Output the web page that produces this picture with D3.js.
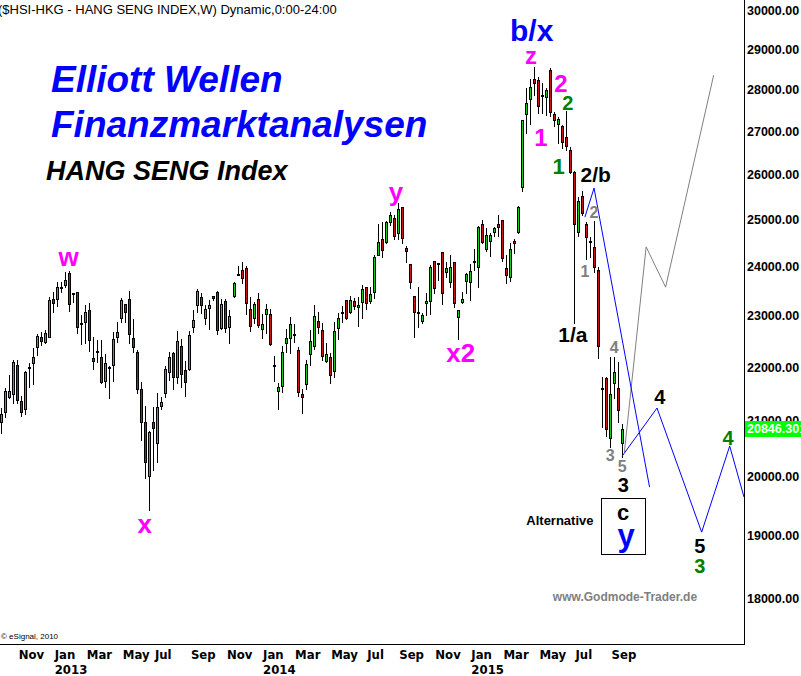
<!DOCTYPE html>
<html>
<head>
<meta charset="utf-8">
<title>HANG SENG Index</title>
<style>
  body { margin: 0; background: #fff; }
  svg { display: block; font-family: "Liberation Sans", Arial, sans-serif; }
  .xaxis text { font-family: "Liberation Sans Narrow", "DejaVu Sans Condensed", sans-serif; font-weight: bold; font-size: 13px; fill: #000; }
  .yaxis text { font-weight: bold; font-size: 12.5px; fill: #000; }
  .wave { font-weight: bold; text-anchor: middle; dominant-baseline: central; }
</style>
</head>
<body>
<script src="https://cdnjs.cloudflare.com/ajax/libs/d3/7.8.5/d3.min.js"></script>
<script>

var w = 801;
var h = 676;
var plotW = 744;
var plotH = 644;

var parseDate = d3.timeParse("%Y-%m-%d");

// weekly bars, Monday dates
var firstWeek = "2012-10-08";
var lastWeek = "2015-09-28";
var weeks = d3.timeMonday.range(parseDate(firstWeek), d3.timeDay.offset(parseDate(lastWeek), 1));

var opens = [20980,21150,21440,21490,22040,21360,21205,22005,22070,22380,22575,22490,22585,23330,23330,23580,23630,23865,23455,23475,
  22860,22870,23110,22165,22315,22185,21740,22005,22045,22575,22960,23230,23330,22555,22280,21575,20980,20015,20980,20600,
  21275,21500,21900,22265,21805,22410,21940,21955,22770,23210,23385,22950,23160,23395,23475,22750,23305,22785,23405,23850,
  23935,23970,23130,22950,23330,22730,23035,23030,22025,21550,21645,22470,22565,22640,22325,21485,21670,22245,22410,22895,
  22720,22120,22200,21930,22750,23070,23320,23080,23300,23170,23270,23580,23305,23485,24250,24580,24530,24945,25035,24710,
  25275,24390,24055,23395,23070,22890,23255,23290,24120,24085,24305,23885,23680,24100,22980,23270,23705,23690,24120,23990,
  24905,24370,24545,24730,24905,24990,23970,23785,24545,24730,25715,27400,27765,28255,28230,27865,27810,28475,27400,27165,
  27115,26860,26565,26070,24730,25530,24910,24545,24425,23935,21610,21785,20680,21690,21605,20590];
var highs = [21225,21595,21845,22135,22135,21450,21925,22070,22360,22640,22675,22710,23385,23475,23690,23680,23900,23920,23460,23480,
  23015,23215,23250,22585,22520,22520,22250,22010,22675,22870,23355,23235,23500,22930,22325,21710,21265,20810,21255,21500,
  21440,22020,22295,22295,22700,22540,22115,22700,23115,23540,23455,23215,23320,23400,23510,23330,23340,23115,23690,24020,
  24095,24020,23385,23285,23455,23030,23230,23135,22210,21690,22405,22730,22980,22830,22380,21585,22135,22720,23215,23070,
  22850,22460,22265,22880,23050,23195,23325,23400,23355,23375,23625,23585,23580,24250,24910,24960,24975,25180,25105,25360,
  25280,24445,24060,23400,23580,23060,23465,24040,24125,24090,24310,24105,24250,24105,23115,23475,23880,24055,24370,24865,
  25000,24815,24710,24850,25105,24995,24250,24495,24580,25305,27270,28025,28255,28560,28310,28150,28025,28520,27465,27345,
  27150,27485,26625,26075,25510,25640,24945,24635,24975,23990,21815,21815,22200,22185,22100,20935];
var lows = [20770,21070,21415,21330,21330,21090,21120,21625,21675,22235,22425,22470,22575,23080,23205,23475,23580,23095,23285,22665,
  22445,22460,22315,21965,22100,21700,21615,21420,21740,22485,22870,22880,22470,22295,21505,20650,19970,19430,20115,20250,
  21210,21440,21750,21575,21700,21625,21455,21950,22685,23080,23050,22835,22745,23320,22640,22745,22675,22470,23385,23830,
  23670,23030,22705,22850,22785,22565,22655,22425,21740,21205,21520,22295,22265,22490,21455,21145,21585,22040,22340,22655,
  22135,22100,21690,21805,22540,22880,22945,23060,23135,22795,22960,23130,23250,23365,24245,24200,24495,24890,24580,24580,
  24495,24105,23555,22575,22785,22860,23015,23030,23455,23725,23245,23790,23590,23170,22535,23250,23455,23320,23935,23590,
  24495,24340,24225,24650,24650,24130,23670,23715,24295,24710,25640,26970,27170,27865,27425,27440,27385,27365,27125,26720,
  26605,26565,26030,22850,24660,25105,24165,24205,23900,22180,20890,20720,20530,21410,20980,20350];
var closes = [21115,21545,21545,22090,21380,21160,21900,22000,22185,22600,22510,22655,23310,23265,23590,23575,23720,23230,23450,22785,
  22865,23070,22520,22120,22310,21715,22070,22000,22535,22675,23310,23080,22635,22390,21575,20970,20260,20785,20860,21255,
  21345,21955,22185,21815,22500,21860,21720,22615,22910,23495,23210,23130,23210,23355,22710,23230,22765,23000,23670,23855,
  23760,23250,22805,23230,22815,22835,23135,22445,22030,21615,22280,22555,22830,22635,21530,21440,22055,22500,22995,22770,
  22215,22250,21845,22700,22950,23065,22950,23320,23205,23215,23540,23250,23440,24200,24515,24355,24945,25105,24660,25230,
  24600,24330,23680,23070,23075,23010,23290,23990,23555,24080,23455,23970,23990,23250,23110,23340,23845,23915,24125,24840,
  24515,24665,24675,24815,24840,24180,23825,24370,24495,25275,27265,27665,28050,28150,27600,27860,27985,27450,27265,27290,
  26755,26665,26070,24905,25415,25145,24635,24540,24005,22410,21605,20845,21485,21900,21195,20846.301];

// price axis and time axis labels
var priceTicks = [18000,19000,20000,21000,22000,23000,24000,25000,26000,27000,28000,29000,30000];
var monthTicks = ["2012-11","2013-01","2013-03","2013-05","2013-07","2013-09","2013-11","2014-01","2014-03",
  "2014-05","2014-07","2014-09","2014-11","2015-01","2015-03","2015-05","2015-07","2015-09"];

// projected paths of the wave count [date, value]
var blueMain = [["2015-07-25",25060],["2015-08-10",25700],["2015-11-15",19820]];
var blueAlt = [["2015-09-28",20360],["2015-11-28",21230],["2016-02-14",19060],["2016-04-03",20540],["2016-04-28",19650]];
var grayAlt = [["2015-10-02",20435],["2015-11-09",24420],["2015-12-13",23580],["2016-03-06",28350]];

// wave labels [text, date, value, colour, size]
var waveLabels = [
  ["w", "2013-02-03", 24200, "#ff00ff", 26],
  ["x", "2013-06-16", 19195, "#ff00ff", 26],
  ["y", "2014-08-29", 25610, "#ff00ff", 26],
  ["x2", "2014-12-20", 22270, "#ff00ff", 26],
  ["z", "2015-04-22", 28825, "#ff00ff", 24],
  ["b/x", "2015-04-23", 29460, "#0000ff", 30],
  ["2", "2015-06-13", 28155, "#ff00ff", 24],
  ["2", "2015-06-25", 27670, "#008000", 20],
  ["1", "2015-05-09", 26845, "#ff00ff", 24],
  ["1", "2015-06-09", 26175, "#008000", 22],
  ["2/b", "2015-08-13", 26015, "#000000", 21],
  ["2", "2015-08-10", 25150, "#808080", 16],
  ["1", "2015-07-25", 23895, "#808080", 16],
  ["1/a", "2015-07-04", 22640, "#000000", 21],
  ["4", "2015-09-14", 22385, "#808080", 16],
  ["3", "2015-09-07", 20365, "#808080", 16],
  ["5", "2015-09-28", 20170, "#808080", 16],
  ["3", "2015-09-30", 19855, "#000000", 20],
  ["4", "2015-12-03", 21435, "#000000", 20],
  ["4", "2016-03-31", 20685, "#008000", 20],
  ["5", "2016-02-11", 18830, "#000000", 20],
  ["3", "2016-02-11", 18510, "#008000", 20]
];
var altBox = [["2015-08-22", 19633], ["2015-11-07", 18701]];
var altLabels = [
  ["c", "2015-09-30", 19396, "#000000", 22],
  ["y", "2015-10-05", 19012, "#0000ff", 31]
];

var xScale = d3.scaleTime()
    .domain([new Date(2012, 9, 6), new Date(2016, 3, 28)])
    .range([0, plotW]);

var yScale = d3.scaleLog()
    .domain([18000, 30000])
    .range([598, 10]);

var svg = d3.select("body")
    .append("svg")
    .attr("width", w)
    .attr("height", h);

svg.append("rect").attr("width", w).attr("height", h).attr("fill", "#fff");

svg.append("defs").append("clipPath").attr("id", "plotclip")
    .append("rect").attr("x", 0).attr("y", 0).attr("width", plotW).attr("height", plotH);

// headings
svg.append("text").attr("x", -2).attr("y", 14)
    .attr("font-size", "13px").attr("fill", "#000")
    .text("($HSI-HKG - HANG SENG INDEX,W) Dynamic,0:00-24:00");

svg.append("text").attr("x", 51).attr("y", 92)
    .attr("font-size", "37px").attr("font-weight", "bold").attr("font-style", "italic")
    .attr("fill", "#0000ff").text("Elliott Wellen");
svg.append("text").attr("x", 51).attr("y", 137)
    .attr("font-size", "37px").attr("font-weight", "bold").attr("font-style", "italic")
    .attr("fill", "#0000ff").text("Finanzmarktanalysen");
svg.append("text").attr("x", 46).attr("y", 180)
    .attr("font-size", "27px").attr("font-weight", "bold").attr("font-style", "italic")
    .attr("fill", "#000").text("HANG SENG Index");

//Create candles
var bars = weeks.map(function(d, i) {
    return { date: d, o: opens[i], h: highs[i], l: lows[i], c: closes[i] };
});

var candle = svg.append("g")
    .attr("shape-rendering", "crispEdges")
    .selectAll("g")
    .data(bars)
    .enter()
    .append("g")
    .attr("transform", function(d) {
        return "translate(" + Math.round(xScale(d.date)) + ",0)";
    });

candle.append("line")
    .attr("x1", 0.5).attr("x2", 0.5)
    .attr("y1", function(d) { return Math.round(yScale(d.h)); })
    .attr("y2", function(d) { return Math.round(yScale(d.l)) + 1; })
    .attr("stroke", "#000");

candle.append("rect")
    .attr("x", -0.5)
    .attr("width", 2)
    .attr("y", function(d) {
        return Math.round(yScale(Math.max(d.o, d.c))) + 0.5;
    })
    .attr("height", function(d) {
        var top = Math.round(yScale(Math.max(d.o, d.c)));
        var bot = Math.round(yScale(Math.min(d.o, d.c)));
        return Math.max(1, bot - top);
    })
    .attr("fill", function(d) {
        return d.c >= d.o ? "#1ec81e" : "#c81414";
    })
    .attr("stroke", "#000");

// projections
var line = d3.line()
    .x(function(d) { return xScale(parseDate(d[0])); })
    .y(function(d) { return yScale(d[1]); });

var proj = svg.append("g").attr("clip-path", "url(#plotclip)");
proj.append("path").datum(grayAlt).attr("d", line)
    .attr("fill", "none").attr("stroke", "#808080").attr("stroke-width", 1);
proj.append("path").datum(blueMain).attr("d", line)
    .attr("fill", "none").attr("stroke", "#0000ff").attr("stroke-width", 1);
proj.append("path").datum(blueAlt).attr("d", line)
    .attr("fill", "none").attr("stroke", "#0000ff").attr("stroke-width", 1);

// wave labels
svg.append("g").selectAll("text")
    .data(waveLabels)
    .enter()
    .append("text")
    .attr("class", "wave")
    .attr("x", function(d) { return xScale(parseDate(d[1])); })
    .attr("y", function(d) { return yScale(d[2]); })
    .attr("fill", function(d) { return d[3]; })
    .attr("font-size", function(d) { return d[4] + "px"; })
    .text(function(d) { return d[0]; });

// alternative box
var bx0 = Math.round(xScale(parseDate(altBox[0][0]))) + 0.5;
var bx1 = Math.round(xScale(parseDate(altBox[1][0]))) + 0.5;
var by0 = Math.round(yScale(altBox[0][1])) + 0.5;
var by1 = Math.round(yScale(altBox[1][1])) + 0.5;
svg.append("rect")
    .attr("x", bx0).attr("y", by0)
    .attr("width", bx1 - bx0).attr("height", by1 - by0)
    .attr("fill", "#fff").attr("stroke", "#000");

svg.append("g").selectAll("text")
    .data(altLabels)
    .enter()
    .append("text")
    .attr("class", "wave")
    .attr("x", function(d) { return xScale(parseDate(d[1])); })
    .attr("y", function(d) { return yScale(d[2]); })
    .attr("fill", function(d) { return d[3]; })
    .attr("font-size", function(d) { return d[4] + "px"; })
    .text(function(d) { return d[0]; });

svg.append("text")
    .attr("x", bx0 - 8)
    .attr("y", yScale(19262))
    .attr("text-anchor", "end").attr("dominant-baseline", "central")
    .attr("font-size", "13px").attr("font-weight", "bold").attr("fill", "#000")
    .text("Alternative");

svg.append("text")
    .attr("x", xScale(parseDate("2015-10-03")))
    .attr("y", yScale(18016))
    .attr("text-anchor", "middle").attr("dominant-baseline", "central")
    .attr("font-size", "12px").attr("font-weight", "bold").attr("fill", "#808080")
    .text("www.Godmode-Trader.de");

svg.append("text").attr("x", 1).attr("y", 639)
    .attr("font-size", "8px").attr("fill", "#000")
    .text("\u00a9 eSignal, 2010");

// axes
var yAxis = d3.axisRight(yScale)
    .tickValues(priceTicks)
    .tickFormat(function(d) { return d.toFixed(2); })
    .tickSize(0)
    .tickPadding(3);

svg.append("g")
    .attr("class", "yaxis")
    .attr("transform", "translate(" + plotW + ",0)")
    .call(yAxis)
    .call(function(g) { g.select(".domain").remove(); });

var tickDates = monthTicks.map(function(m) {
    return d3.timeMonday.ceil(parseDate(m + "-01"));
});

var xAxis = d3.axisBottom(xScale)
    .tickValues(tickDates)
    .tickFormat(d3.timeFormat("%b"))
    .tickSize(0)
    .tickPadding(6);

var gx = svg.append("g")
    .attr("class", "xaxis")
    .attr("transform", "translate(0," + plotH + ")")
    .call(xAxis);
gx.select(".domain").remove();
gx.selectAll(".tick text")
    .attr("text-anchor", "start")
    .attr("x", 1)
    .each(function(d) {
        if (d.getMonth() === 0) {
            d3.select(this).append("tspan")
                .attr("x", 1).attr("dy", "1.12em")
                .text(d.getFullYear());
        }
    });

// frame
svg.append("line")
    .attr("x1", 0).attr("x2", plotW + 1)
    .attr("y1", plotH + 0.5).attr("y2", plotH + 0.5)
    .attr("stroke", "#000").attr("stroke-width", 1);
svg.append("line")
    .attr("x1", plotW + 0.5).attr("x2", plotW + 0.5)
    .attr("y1", 0).attr("y2", plotH + 1)
    .attr("stroke", "#000").attr("stroke-width", 1);

// last price tag
var lastClose = closes[closes.length - 1];
svg.append("rect")
    .attr("x", plotW + 1).attr("y", Math.round(yScale(lastClose)) - 8)
    .attr("width", w - plotW).attr("height", 16)
    .attr("fill", "#00ff00");
svg.append("text")
    .attr("x", plotW + 3).attr("y", yScale(lastClose))
    .attr("dominant-baseline", "central")
    .attr("font-size", "12.5px").attr("font-weight", "bold").attr("fill", "#fff")
    .text(lastClose.toFixed(3));

</script>
</body>
</html>
